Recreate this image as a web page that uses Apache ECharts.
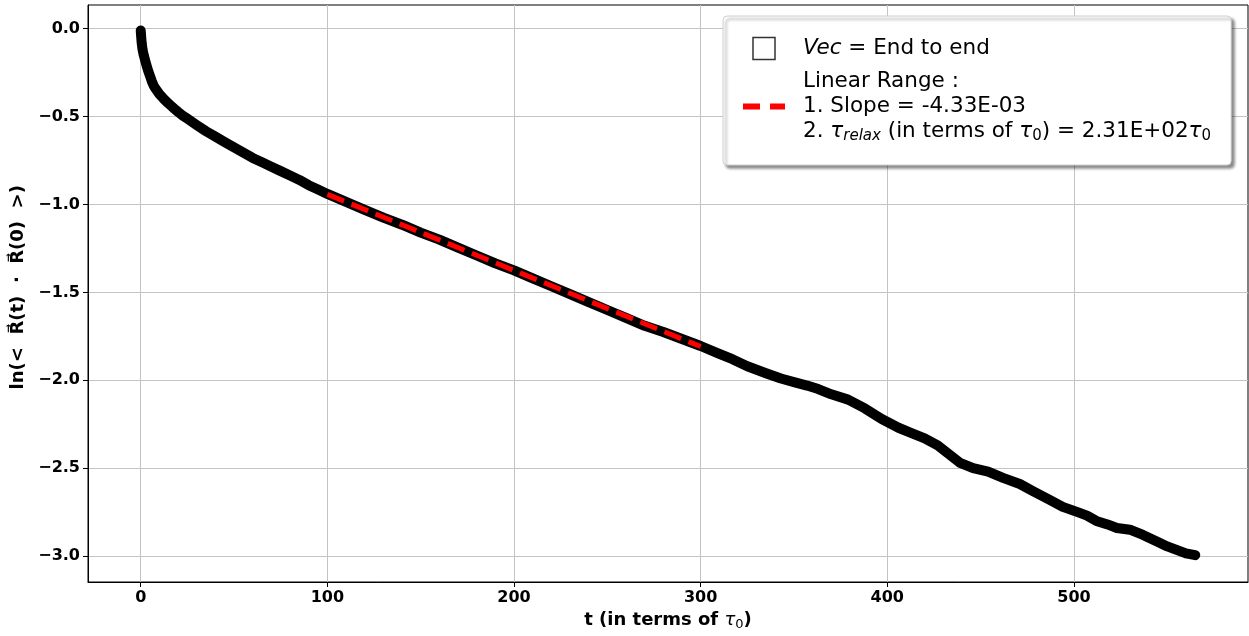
<!DOCTYPE html>
<html><head><meta charset="utf-8">
<script src="https://cdn.jsdelivr.net/npm/echarts@6/dist/echarts.min.js"></script>
<style>html,body{margin:0;padding:0;background:#fff;overflow:hidden}#c{width:1249px;height:636px}</style>
</head><body><div id="c"></div>
<script>
// ---- data ----
const tVals = [0, 0.2, 0.5, 1, 1.5, 2, 2.5, 3, 4, 5, 6, 7, 8, 9, 10, 12, 14, 16, 18, 20,
  22.5, 25, 27.5, 30, 35, 40, 45, 50, 55, 60, 65, 70, 75, 80, 85, 90, 95,
  100, 110, 120, 130, 140, 150, 160, 170, 180, 190, 200,
  210, 220, 230, 240, 250, 260, 270, 280, 290, 300, 310, 317, 325, 335, 343, 350, 357, 363, 370, 379,
  388, 397, 406, 413, 420, 427, 433, 439, 446, 454, 462, 471, 478, 487, 494, 502, 507, 512, 518, 523,
  530, 537, 545, 550, 555, 560, 565];
const lnVals = [-0.01, -0.04, -0.08, -0.12, -0.145, -0.165, -0.185, -0.205, -0.24, -0.27, -0.3, -0.325, -0.342, -0.357, -0.372, -0.395, -0.417, -0.436, -0.455, -0.473,
  -0.494, -0.512, -0.53, -0.548, -0.583, -0.614, -0.645, -0.675, -0.705, -0.735, -0.76, -0.785, -0.81, -0.835, -0.86, -0.89, -0.915,
  -0.94, -0.985, -1.03, -1.075, -1.115, -1.16, -1.2, -1.245, -1.29, -1.335, -1.375,
  -1.42, -1.465, -1.51, -1.555, -1.6, -1.645, -1.69, -1.725, -1.765, -1.805, -1.85, -1.88, -1.92, -1.96, -1.99, -2.01, -2.03, -2.05, -2.08, -2.11,
  -2.16, -2.22, -2.27, -2.3, -2.33, -2.37, -2.42, -2.47, -2.5, -2.52, -2.555, -2.59, -2.63, -2.68, -2.72, -2.75, -2.77, -2.8, -2.82, -2.84,
  -2.85, -2.88, -2.92, -2.945, -2.965, -2.985, -2.995];
const fitT = [100, 300];
const fitY = [-0.942, -1.808];
const xTicks = [0, 100, 200, 300, 400, 500];
const yTicks = [-3.0, -2.5, -2.0, -1.5, -1.0, -0.5, 0.0];
const xRange = [-28.25, 593.25];
const yRange = [-3.1475, 0.135];
const xTitle = 't (in terms of {g|τ}{s|0})';
const yTitle = '  ln(<  R⃗(t)  ·  R⃗(0)  >)';
const legendTexts = {
  vec: '{i|Vec} = End to end',
  fit: 'Linear Range :\n1. Slope = -4.33E-03\n2. {i|τ}{si|relax} (in terms of {i|τ}{s|0}) = 2.31E+02{i|τ}{s|0}'
};

const FONT = 'DejaVu Sans';
const chart = echarts.init(document.getElementById('c'), null, {renderer: 'canvas', width: 1249, height: 636});
const fmtTick = v => (Math.abs(v) < 1e-9 ? 0 : v).toFixed(1).replace('-', '\u2212');
const grid = {left: 88, width: 1160, top: 5, height: 582, show: true, borderColor: '#000', borderWidth: 1};

chart.setOption({
  animation: false,
  backgroundColor: '#fff',
  grid: grid,
  xAxis: {
    type: 'value', min: xRange[0], max: xRange[1],
    name: xTitle, nameLocation: 'middle', nameGap: 28,
    nameTextStyle: {fontFamily: FONT, fontWeight: 'bold', fontSize: 18, color: '#000',
      rich: {g: {fontFamily: FONT, fontStyle: 'italic', fontWeight: 'normal', fontSize: 18, color: '#000'},
             s: {fontFamily: FONT, fontWeight: 'normal', fontSize: 13, color: '#000', padding: [8, 0, 0, 0]}}},
    axisLine: {show: true, onZero: false, lineStyle: {color: '#000', width: 1}},
    axisTick: {show: true, inside: false, length: 5, customValues: xTicks, lineStyle: {color: '#000'}},
    axisLabel: {customValues: xTicks, margin: 8, fontFamily: FONT, fontWeight: 'bold', fontSize: 16, color: '#000',
      formatter: v => String(Math.round(v))},
    splitLine: {show: true, lineStyle: {color: '#c4c4c4', width: 1}}
  },
  yAxis: {
    type: 'value', min: yRange[0], max: yRange[1],
    name: yTitle, nameLocation: 'middle', nameGap: 60, nameRotate: 90,
    nameTextStyle: {fontFamily: FONT, fontWeight: 'bold', fontSize: 18, color: '#000'},
    axisLine: {show: true, onZero: false, lineStyle: {color: '#000', width: 1}},
    axisTick: {show: true, inside: false, length: 5, customValues: yTicks, lineStyle: {color: '#000'}},
    axisLabel: {customValues: yTicks, margin: 8, fontFamily: FONT, fontWeight: 'bold', fontSize: 16, color: '#000',
      formatter: fmtTick},
    splitLine: {show: true, lineStyle: {color: '#c4c4c4', width: 1}}
  },
  legend: {
    orient: 'vertical', left: 723, top: 16,
    padding: [20, 20, 21, 7], itemGap: 8,
    itemWidth: 68, itemHeight: 22,
    backgroundColor: '#fff', borderColor: '#d0d0d0', borderWidth: 1, borderRadius: 4,
    shadowColor: 'rgba(0,0,0,0.45)', shadowBlur: 3, shadowOffsetX: 3, shadowOffsetY: 3,
    selectedMode: false,
    data: [
      {name: 'vec', icon: 'path://M0,0L1,0L1,1L0,1Z',
       itemStyle: {color: 'transparent', borderColor: '#333', borderWidth: 1.5}},
      {name: 'fit', icon: 'path://M0,0ZM68,22ZM13,8L30,8L30,14L13,14ZM40,8L55,8L55,14L40,14Z',
       itemStyle: {color: '#ff0000', borderWidth: 0}}
    ],
    formatter: n => legendTexts[n],
    textStyle: {fontFamily: FONT, fontSize: 21.5, lineHeight: 25, color: '#000',
      rich: {
        i: {fontFamily: FONT, fontStyle: 'italic', fontSize: 21.5, lineHeight: 25, color: '#000', verticalAlign: 'middle'},
        si: {fontFamily: FONT, fontStyle: 'italic', fontSize: 15, lineHeight: 14, color: '#000', verticalAlign: 'bottom'},
        s: {fontFamily: FONT, fontSize: 15, lineHeight: 14, color: '#000', verticalAlign: 'bottom'}
      }}
  },
  series: [
    {name: 'vec', type: 'line', data: tVals.map((t, k) => [t, lnVals[k]]),
     showSymbol: false, symbol: 'none', smooth: false, z: 2,
     lineStyle: {color: '#000', width: 10, join: 'round', cap: 'round'}, itemStyle: {color: '#000'}},
    {name: 'fit', type: 'line', data: fitT.map((t, k) => [t, fitY[k]]),
     showSymbol: false, symbol: 'none', z: 3,
     lineStyle: {color: '#ff0000', width: 5, type: [18, 8]}, itemStyle: {color: '#ff0000'}}
  ]
});
</script></body></html>
